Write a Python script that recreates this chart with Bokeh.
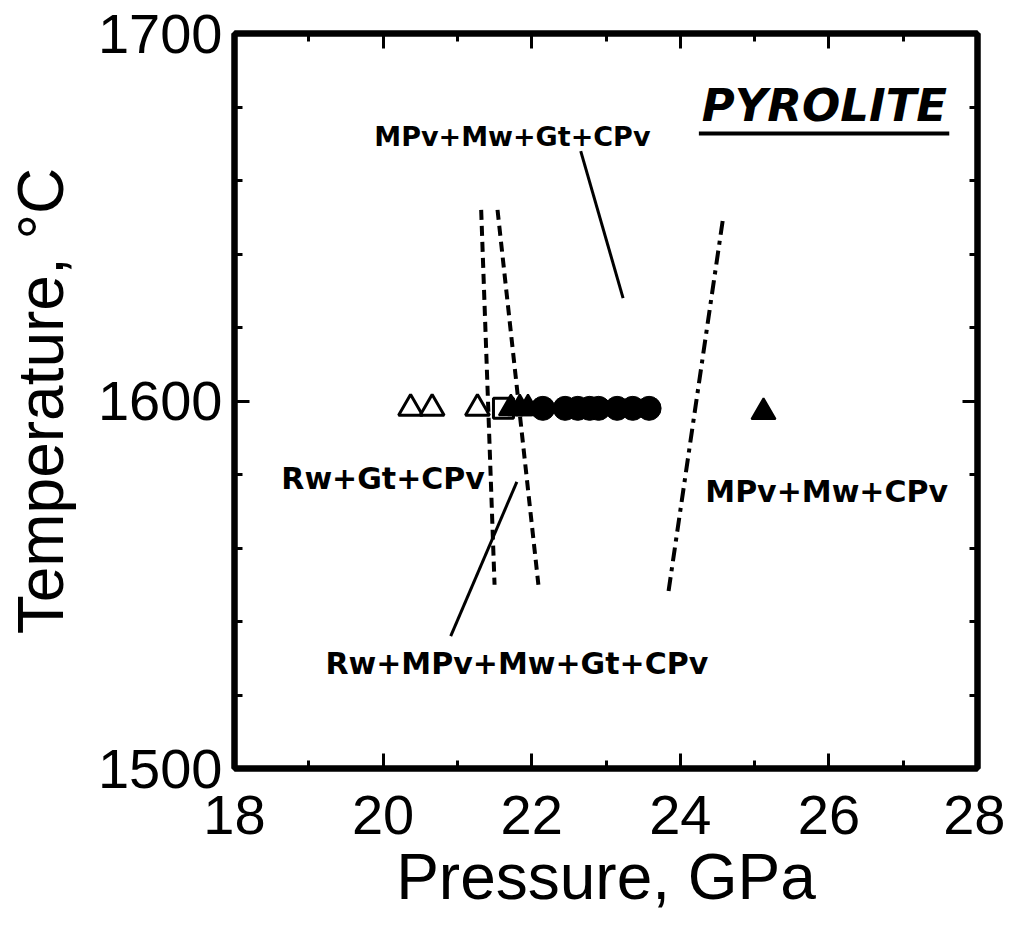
from bokeh.plotting import figure
from bokeh.models import Range1d, LinearAxis, Label, FixedTicker
from bokeh.embed import file_html
from bokeh.resources import INLINE

# ---- data ----
open_tri_p = [20.37, 20.66, 21.27]
open_tri_t = [1598, 1598, 1598]
open_sq_p = [21.62]
open_sq_t = [1598]
fill_tri_p = [21.72, 21.84, 21.95, 25.12]
fill_tri_t = [1598, 1598, 1598, 1597]
circle_p = [22.15, 22.45, 22.62, 22.78, 22.9, 23.15, 23.36, 23.58]
circle_t = [1598, 1598, 1598, 1598, 1598, 1598, 1598, 1598]

bound1_p = [21.32, 21.50]
bound1_t = [1652, 1550]
bound2_p = [21.54, 22.09]
bound2_t = [1652, 1550]
bound3_p = [24.57, 23.84]
bound3_t = [1649, 1548]

ptr1_p = [22.66, 23.23]
ptr1_t = [1668, 1628]
ptr2_p = [21.80, 20.91]
ptr2_t = [1578, 1536]

field_labels = ["MPv+Mw+Gt+CPv", "Rw+Gt+CPv", "MPv+Mw+CPv", "Rw+MPv+Mw+Gt+CPv"]
field_p = [21.74, 20.0, 25.97, 21.8]
field_t = [1672, 1579, 1575.5, 1528.5]
field_size = ["27px", "30px", "30px", "30px"]

x_major = [18, 20, 22, 24, 26, 28]
x_minor = [19, 21, 23, 25, 27]
y_major = [1500, 1600, 1700]
y_minor = [1520, 1540, 1560, 1580, 1620, 1640, 1660, 1680]

FONT = "Liberation Sans"
LFONT = "DejaVu Sans"

p = figure(width=1005, height=915, output_backend="svg", toolbar_location=None,
           x_range=Range1d(18, 28), y_range=Range1d(1500, 1700),
           min_border_left=234, min_border_right=28, min_border_top=33,
           min_border_bottom=145)
p.xgrid.visible = False
p.ygrid.visible = False
p.outline_line_color = "black"
p.outline_line_width = 6
p.background_fill_color = "white"
p.border_fill_color = "white"

def style_axis(ax, major, minor, labels=True):
    ax.ticker = FixedTicker(ticks=major, minor_ticks=minor)
    ax.axis_line_width = 6
    ax.axis_line_color = "black"
    ax.major_tick_in = 15
    ax.major_tick_out = 0
    ax.minor_tick_in = 8
    ax.minor_tick_out = 0
    ax.major_tick_line_width = 3
    ax.minor_tick_line_width = 3
    ax.major_label_text_font = FONT
    ax.major_label_text_font_size = "56px"
    ax.major_label_text_color = "black"
    if not labels:
        ax.major_label_text_alpha = 0
        ax.major_label_text_font_size = "1px"

style_axis(p.xaxis[0], x_major, x_minor)
style_axis(p.yaxis[0], y_major, y_minor)
p.xaxis[0].major_label_standoff = 27
p.yaxis[0].major_label_standoff = 12
p.xaxis[0].axis_label = "Pressure, GPa"
p.yaxis[0].axis_label = "Temperature, °C"
for ax in (p.xaxis[0], p.yaxis[0]):
    ax.axis_label_text_font = FONT
    ax.axis_label_text_font_size = "64px"
    ax.axis_label_text_font_style = "normal"
    ax.axis_label_text_color = "black"
p.xaxis[0].axis_label_standoff = 4
p.yaxis[0].axis_label_standoff = 18

top = LinearAxis()
style_axis(top, x_major, x_minor, labels=False)
p.add_layout(top, "above")
right = LinearAxis()
style_axis(right, y_major, y_minor, labels=False)
p.add_layout(right, "right")

# boundaries
p.line(bound1_p, bound1_t, line_color="black", line_width=4, line_dash="10 6")
p.line(bound2_p, bound2_t, line_color="black", line_width=4, line_dash="10 6")
p.line(bound3_p, bound3_t, line_color="black", line_width=4, line_dash="14 6 4 6")
p.line(ptr1_p, ptr1_t, line_color="black", line_width=3)
p.line(ptr2_p, ptr2_t, line_color="black", line_width=3)

# markers
p.scatter(open_tri_p, open_tri_t, marker="triangle", size=24, fill_color="white",
          line_color="black", line_width=3)
p.scatter(open_sq_p, open_sq_t, marker="square", size=20, fill_color="white",
          line_color="black", line_width=3)
p.scatter(fill_tri_p, fill_tri_t, marker="triangle", size=24, fill_color="black",
          line_color="black", line_width=2)
p.scatter(circle_p, circle_t, marker="circle", size=24, fill_color="black",
          line_color="black", line_width=1)

# field labels
for txt, x, y, fs in zip(field_labels, field_p, field_t, field_size):
    p.add_layout(Label(x=x, y=y, text=txt, text_font=LFONT, text_font_size=fs,
                       text_font_style="bold", text_align="center",
                       text_baseline="middle", text_color="black"))

p.add_layout(Label(x=25.94, y=1680.5, text="PYROLITE", text_font=LFONT,
                   text_font_size="45px", text_font_style="bold italic",
                   text_align="center", text_baseline="middle", text_color="black"))
p.segment(x0=[24.25], y0=[1672.8], x1=[27.62], y1=[1672.8], line_color="black",
          line_width=4)

open("out.html", "w").write(file_html(p, INLINE))
